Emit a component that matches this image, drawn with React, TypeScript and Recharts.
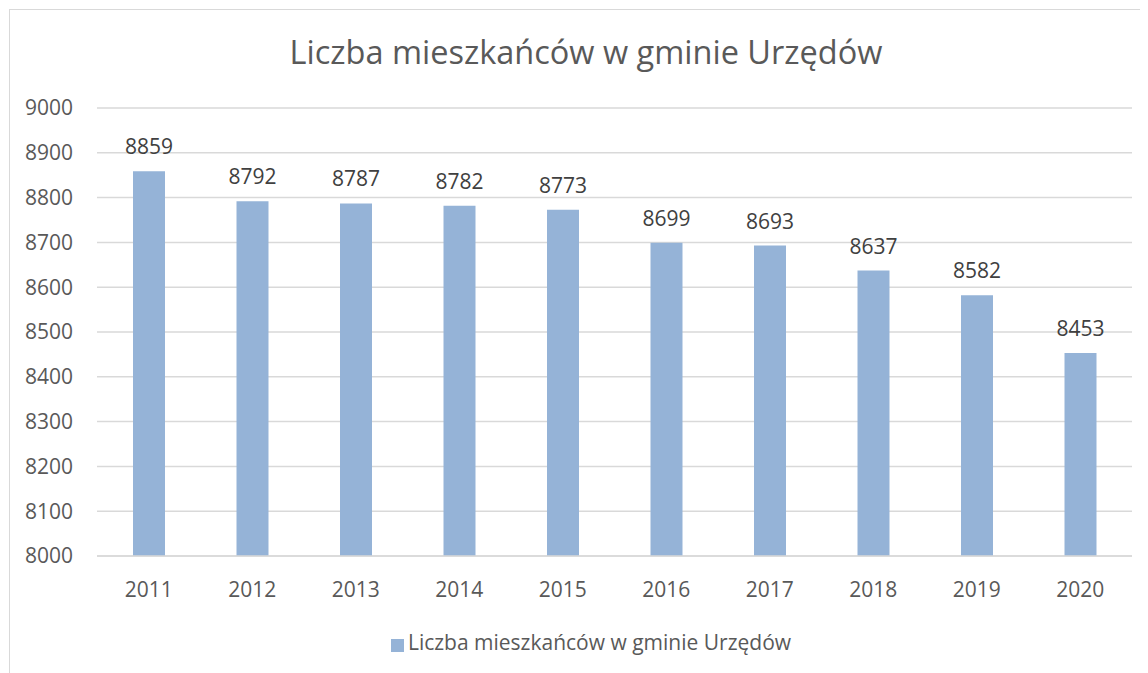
import React from 'react';
import { BarChart, Bar, XAxis, YAxis, CartesianGrid, Legend, LabelList } from 'recharts';

const years = ['2011', '2012', '2013', '2014', '2015', '2016', '2017', '2018', '2019', '2020'];
const residents = [8859, 8792, 8787, 8782, 8773, 8699, 8693, 8637, 8582, 8453];
const yTicks = [8000, 8100, 8200, 8300, 8400, 8500, 8600, 8700, 8800, 8900, 9000];

const seriesName = 'Liczba mieszkańców w gminie Urzędów';
const barColor = '#95b3d7';
const textColor = '#595959';
const font = '"Open Sans", sans-serif';

const data = years.map((year, i) => ({ year, value: residents[i] }));

const App: React.FC = () => {
  return (
    <div style={{ position: 'relative', width: 1140, height: 665, fontFamily: font }}>
      {/* frame, cut off at the right and bottom like the original */}
      <div
        style={{
          position: 'absolute',
          left: 1,
          top: 1,
          width: 1160,
          height: 680,
          borderLeft: '1px solid #d9d9d9',
          borderTop: '1px solid #d9d9d9',
        }}
      />
      <div
        style={{
          position: 'absolute',
          left: 0,
          width: 1156,
          top: 21,
          textAlign: 'center',
          fontSize: 32.5,
          color: textColor,
        }}
      >
        {seriesName}
      </div>
      <BarChart
        width={1140}
        height={665}
        data={data}
        margin={{ top: 100, right: 16, bottom: 17, left: 0 }}
        style={{ position: 'absolute', left: 0, top: 0, fontFamily: font }}
      >
        <CartesianGrid vertical={false} stroke="#d9d9d9" strokeWidth={1.5} />
        <XAxis
          dataKey="year"
          axisLine={{ stroke: '#d9d9d9', strokeWidth: 1.5 }}
          tickLine={false}
          tickSize={8}
          tickMargin={18}
          height={72}
          tick={{ fill: textColor, fontSize: 21 }}
        />
        <YAxis
          domain={[8000, 9000]}
          ticks={yTicks}
          width={89}
          axisLine={false}
          tickLine={false}
          tickSize={8}
          tickMargin={16}
          tick={{ fill: textColor, fontSize: 21 }}
        />
        <Legend
          verticalAlign="bottom"
          iconType="square"
          iconSize={13}
          wrapperStyle={{ left: 26 }}
          formatter={(v) => <span style={{ color: textColor, fontSize: 21 }}>{v}</span>}
        />
        <Bar dataKey="value" name={seriesName} fill={barColor} barSize={32} isAnimationActive={false}>
          <LabelList dataKey="value" position="top" offset={17} fill="#404040" fontSize={21} />
        </Bar>
      </BarChart>
    </div>
  );
};

export default App;
